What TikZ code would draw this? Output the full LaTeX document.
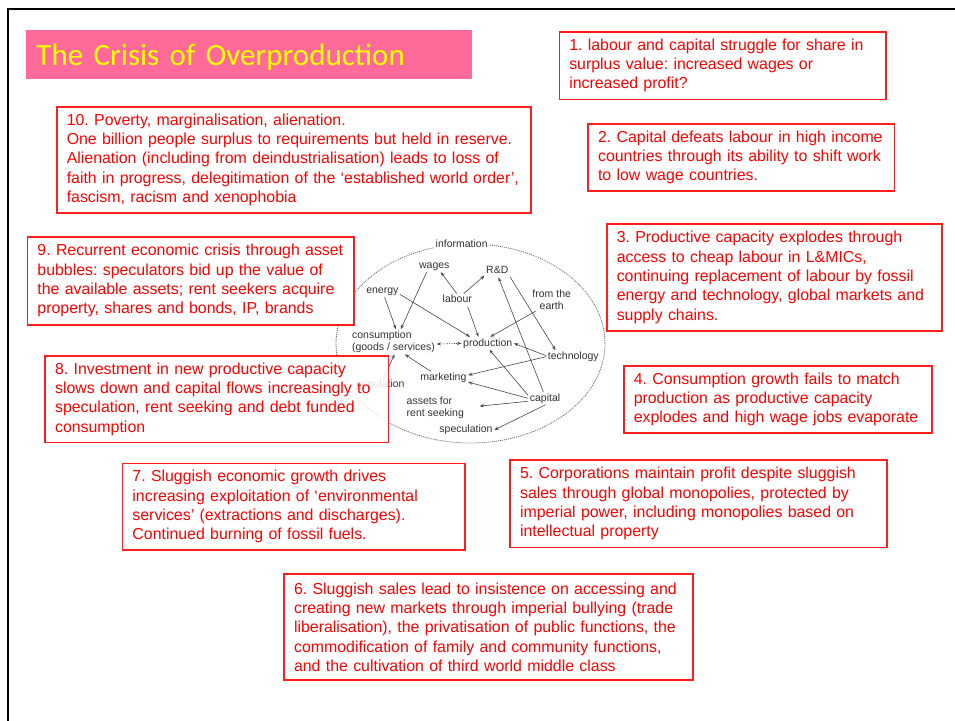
\documentclass[tikz,border=0pt]{standalone}
\usepackage{fontspec}
\setmainfont{Liberation Sans}
\newfontfamily\titlefont{Carlito}
\usetikzlibrary{arrows.meta,shapes.geometric}
\definecolor{titlepink}{RGB}{255,106,153}
\definecolor{titleyellow}{RGB}{255,255,0}
\definecolor{boxred}{RGB}{255,30,30}
\definecolor{diagtext}{RGB}{50,50,50}
\definecolor{diagline}{RGB}{70,70,70}
\frenchspacing
\hyphenpenalty=10000
\exhyphenpenalty=10000
\tikzset{
  redbox/.style={draw=boxred, line width=1.5pt, fill=white, text=red,
    font=\fontsize{15.9}{19.3}\selectfont, align=left, anchor=north west,
    inner xsep=10pt, inner ysep=4pt},
  dn/.style={font=\fontsize{10.5}{12}\selectfont, text=diagtext, inner sep=1.5pt,
    text height=7.5pt, text depth=2pt},
  dn2/.style={font=\fontsize{10.5}{12}\selectfont, text=diagtext, inner sep=1.5pt},
  ar/.style={-{Stealth[length=4.5pt,width=3.2pt]}, draw=diagline, line width=0.6pt},
}
\begin{document}
\begin{tikzpicture}[x=1pt,y=-1pt]
\useasboundingbox (0,0) rectangle (955,720);
% frame
\draw[line width=2.5pt] (8,730) -- (8,9) -- (965,9);

% title
\node[fill=titlepink, anchor=west, minimum width=445.5pt, minimum height=48.5pt,
      inner xsep=10pt, text height=22pt, text depth=0pt, align=left,
      font=\titlefont\fontsize{31}{36}\selectfont, text=titleyellow, text width=425pt]
      (title) at (26,54.3) {The Crisis of Overproduction};

% central diagram
\draw[black!60, line width=0.8pt, dash pattern=on 1pt off 1pt] (470.5,343.5) ellipse [x radius=134.5, y radius=99.5];
\node[dn, fill=white] (information) at (461.7,245) {information};
\node[dn] (wages) at (434.3,265.7) {wages};
\node[dn] (rd) at (497.3,271) {R\&D};
\node[dn] (energy) at (382.3,290.7) {energy};
\node[dn] (labour) at (457.3,300) {labour};
\node[dn2, align=center] (earth) at (551.7,299.5) {from the\\earth};
\node[dn2, align=left] (cons) at (393.5,341.8) {consumption\\(goods / services)};
\node[dn] (production) at (487.7,343.3) {production};
\node[dn] (technology) at (573.3,356.7) {technology};
\node[dn] (marketing) at (443.3,377.7) {marketing};
\node[dn] (population) at (380.3,384.7) {population};
\node[dn2, align=left] (assets) at (435.3,407.5) {assets for\\rent seeking};
\node[dn] (capital) at (545,398.3) {capital};
\node[dn] (speculation) at (466,430) {speculation};

\draw[ar] (labour.95) -- (wages.-45);
\draw[ar] (labour.45) -- (rd.200);
\draw[ar] (labour.-32) -- (production.145);
\draw[ar] (wages.220) -- (cons.60);
\draw[ar] (energy.-70) -- (cons.79);
\draw[ar] (energy.-12) -- (production.160);
\draw[ar] (earth.216) -- (production.68);
\draw[ar, {Stealth[length=4.5pt,width=3.2pt]}-{Stealth[length=4.5pt,width=3.2pt]}, dash pattern=on 1.2pt off 1.2pt] (cons.-3) -- (production.west);
\draw[ar] (rd.-25) -- (technology.160);
\draw[ar] (capital.105) -- (rd.-80);
\draw[ar] (technology.178) -- (production.east);
\draw[ar] (technology.west) -- (marketing.6);
\draw[ar] (capital.170) -- (production.-75);
\draw[ar] (capital.west) -- (marketing.-10);
\draw[ar, shorten >=14pt] (capital.190) -- (assets.east);
\draw[ar] (capital.-85) -- (speculation.east);
\draw[ar] (marketing.153) -- (cons.-48);
\draw[ar] (population.64) -- (cons.-85);

% numbered boxes
\node[redbox, text width=306.5pt, minimum height=67.5pt] (b1) at (558.5,31)
 {1. labour and capital struggle for share in\\surplus value: increased wages or\\increased profit?};
\node[redbox, text width=286.5pt, minimum height=67pt] (b2) at (587.3,123.3)
 {2. Capital defeats labour in high income\\countries through its ability to shift work\\to low wage countries.};
\node[redbox, text width=315pt, minimum height=106.7pt] (b3) at (606,223.3)
 {3. Productive capacity explodes through\\access to cheap labour in L\&MICs,\\continuing replacement of labour by fossil\\energy and technology, global markets and\\supply chains.};
\node[redbox, text width=288pt, minimum height=67.3pt] (b4) at (623,365)
 {4. Consumption growth fails to match\\production as productive capacity\\explodes and high wage jobs evaporate};
\node[redbox, text width=356.7pt, minimum height=87.4pt] (b5) at (509.3,459.3)
 {5. Corporations maintain profit despite sluggish\\sales through global monopolies, protected by\\imperial power, including monopolies based on\\intellectual property};
\node[redbox, text width=389pt, minimum height=106pt] (b6) at (283.3,573.3)
 {6. Sluggish sales lead to insistence on accessing and\\creating new markets through imperial bullying (trade\\liberalisation), the privatisation of public functions, the\\commodification of family and community functions,\\and the cultivation of third world middle class};
\node[redbox, text width=322.6pt, minimum height=86.6pt] (b7) at (121.7,462.7)
 {7. Sluggish economic growth drives\\increasing exploitation of ‘environmental\\services’ (extractions and discharges).\\Continued burning of fossil fuels.};
\node[redbox, text width=323.4pt, minimum height=86.7pt, fill opacity=0.85, text opacity=1] (b8) at (44.3,355)
 {8. Investment in new productive capacity\\slows down and capital flows increasingly to\\speculation, rent seeking and debt funded\\consumption};
\node[redbox, text width=306.6pt, minimum height=88pt] (b9) at (26.7,236)
 {9. Recurrent economic crisis through asset\\bubbles: speculators bid up the value of\\the available assets; rent seekers acquire\\property, shares and bonds, IP, brands};
\node[redbox, text width=454pt, minimum height=106pt] (b10) at (56,106)
 {10. Poverty, marginalisation, alienation.\\One billion people surplus to requirements but held in reserve.\\Alienation (including from deindustrialisation) leads to loss of\\faith in progress, delegitimation of the ‘established world order’,\\fascism, racism and xenophobia};
\end{tikzpicture}
\end{document}
